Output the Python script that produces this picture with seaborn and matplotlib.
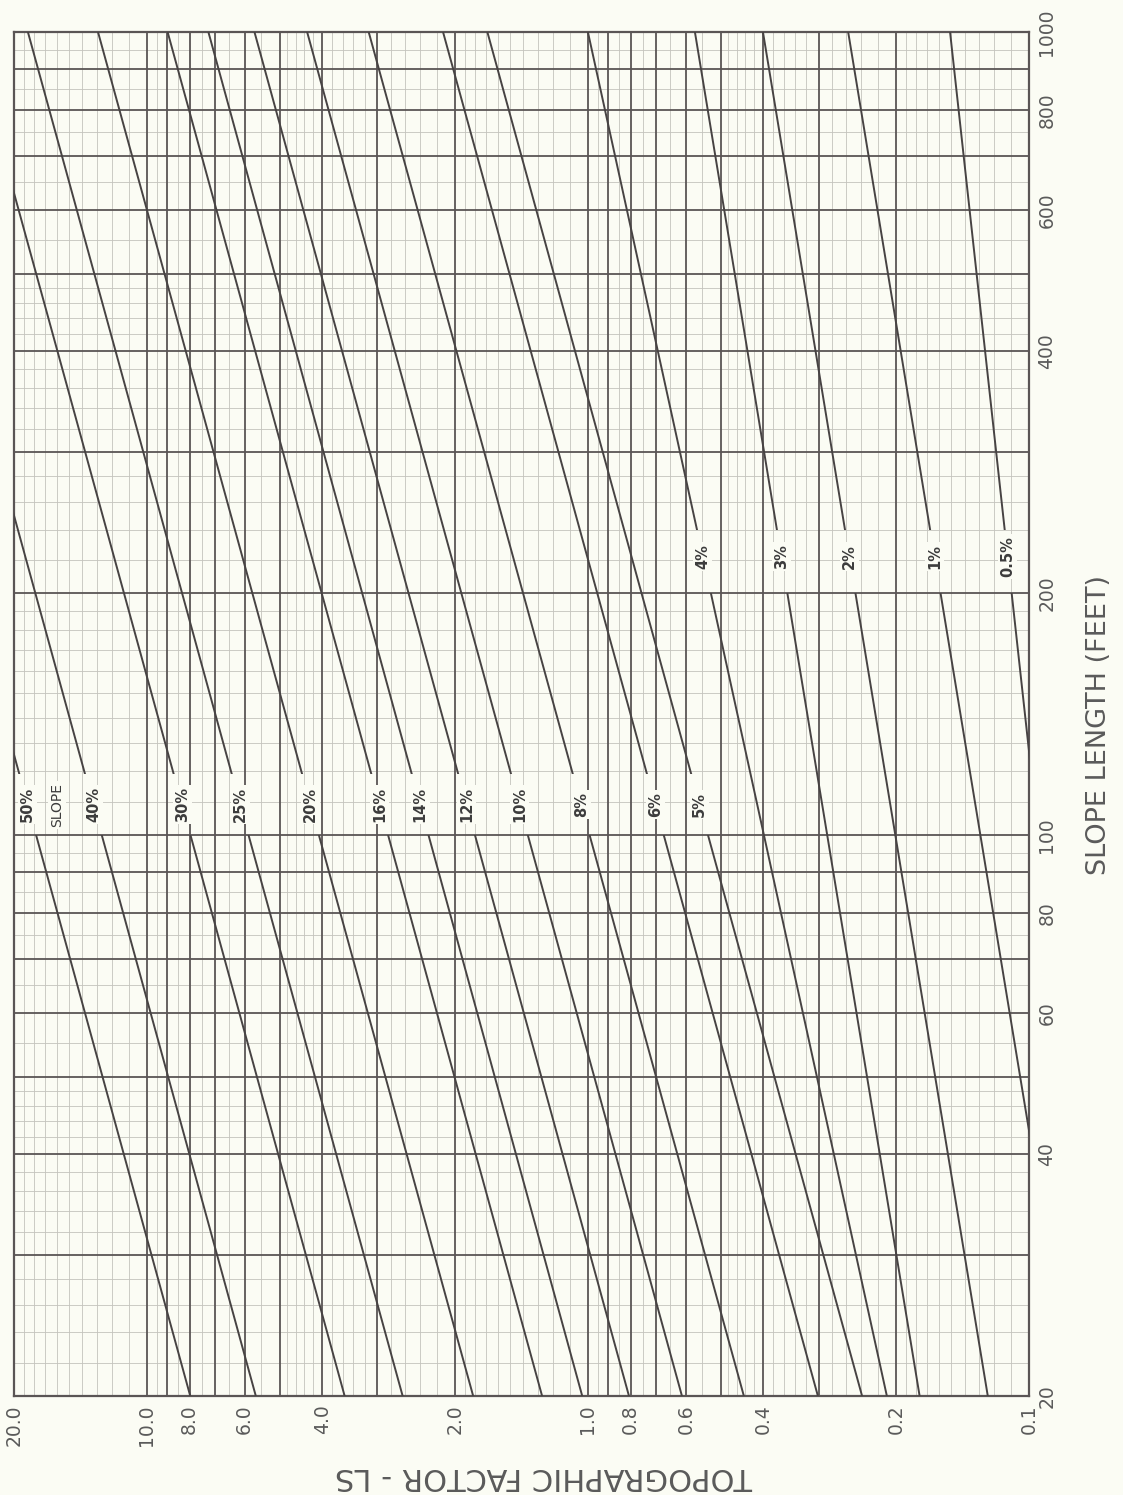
import numpy as np
import pandas as pd
import matplotlib
matplotlib.use("Agg")
import matplotlib.pyplot as plt
import seaborn as sns
from matplotlib.patches import Rectangle
from matplotlib.transforms import blended_transform_factory

# ---------------- data ----------------
slope_labels = ["50%", "40%", "30%", "25%", "20%", "16%", "14%", "12%", "10%",
                "8%", "6%", "5%", "4%", "3%", "2%", "1%", "0.5%"]
# LS value of each line at slope length 20 ft and 1000 ft
ls_at_20 = [7.97, 5.66, 3.56, 2.63, 1.82, 1.27, 1.03, 0.807, 0.612,
            0.443, 0.301, 0.239, 0.210, 0.177, 0.124, 0.0796, 0.0691]
ls_at_1000 = [56.4, 40.0, 25.2, 18.6, 12.9, 8.97, 7.25, 5.70, 4.33,
              3.14, 2.13, 1.69, 1.00, 0.572, 0.401, 0.257, 0.151]
length_ends = [20, 1000]

ls_ticks = [20, 10, 8, 6, 4, 2, 1, 0.8, 0.6, 0.4, 0.2, 0.1]
ls_tick_labels = ["20.0", "10.0", "8.0", "6.0", "4.0", "2.0", "1.0", "0.8", "0.6", "0.4", "0.2", "0.1"]
length_ticks = [20, 40, 60, 80, 100, 200, 400, 600, 800, 1000]
length_tick_labels = ["20", "40", "60", "80", "100", "200", "400", "600", "800", "1000"]

# ---------------- styling ----------------
BG = "#fbfcf4"
INK = "#474343"
GRID_HEAVY = "#5a5555"
GRID_LIGHT = "#c4c3bd"
TXT = "#5a5a5a"

sns.set_style("white")
plt.rcParams["font.family"] = ["DejaVu Sans"]

fig = plt.figure(figsize=(11.23, 14.95), dpi=100, facecolor=BG)
ax = fig.add_axes([14 / 1123, 1 - 1396 / 1495, (1029 - 14) / 1123, (1396 - 32) / 1495])
ax.set_facecolor(BG)
ax.set_xscale("log")
ax.set_yscale("log")
ax.set_xlim(20, 0.1)
ax.set_ylim(20, 1000)

# ---------------- log-paper grid ----------------
def frange(a, b, s):
    n = int(round((b - a) / s))
    return [round(a + i * s, 6) for i in range(n + 1)]

heavy_x = [k * 10.0 ** e for e in (-1, 0) for k in range(1, 10)] + [10, 20]
light_x = (frange(0.11, 0.19, 0.01) + [v for v in frange(0.22, 0.48, 0.02) if abs(v * 10 - round(v * 10)) > 1e-6]
           + [0.55, 0.65, 0.75, 0.85, 0.95]
           + frange(1.1, 1.9, 0.1) + [v for v in frange(2.2, 4.8, 0.2) if abs(v - round(v)) > 1e-6]
           + [5.5, 6.5, 7.5, 8.5, 9.5] + frange(11, 19, 1))
heavy_y = list(range(20, 100, 10)) + list(range(100, 1001, 100))
light_y = ([v for v in range(22, 50, 2) if v % 10] + [55, 65, 75, 85, 95]
           + [v for v in range(110, 200, 10)] + [v for v in range(220, 500, 20) if v % 100]
           + [550, 650, 750, 850, 950])

for v in light_x:
    ax.axvline(v, color=GRID_LIGHT, lw=0.6, zorder=1)
for v in light_y:
    ax.axhline(v, color=GRID_LIGHT, lw=0.6, zorder=1)
for v in heavy_x:
    ax.axvline(v, color=GRID_HEAVY, lw=1.3, zorder=1.5)
for v in heavy_y:
    ax.axhline(v, color=GRID_HEAVY, lw=1.3, zorder=1.5)

# ---------------- slope lines ----------------
rows = []
for lab, a, b in zip(slope_labels, ls_at_20, ls_at_1000):
    rows.append({"slope": lab, "length": length_ends[0], "ls": a})
    rows.append({"slope": lab, "length": length_ends[1], "ls": b})
df = pd.DataFrame(rows)
small = ["4%", "3%", "2%", "1%", "0.5%"]
df_big = df[~df["slope"].isin(small)]
df_small = df[df["slope"].isin(small)]

blend = blended_transform_factory(ax.transAxes, ax.transData)

def draw(data, y0, y1):
    n0 = len(ax.lines)
    sns.lineplot(data=data, x="ls", y="length", units="slope", estimator=None,
                 sort=False, color=INK, lw=1.4, legend=False, ax=ax, zorder=3)
    clip = Rectangle((0, y0), 1, y1 - y0, transform=blend)
    for ln in ax.lines[n0:]:
        ln.set_clip_path(clip)

draw(df_big, 20, 100)
draw(df_big, 119, 1000)
draw(df_small, 20, 200)
draw(df_small, 240, 1000)

# ---------------- line labels ----------------
def ls_at(lab, lam):
    i = slope_labels.index(lab)
    a, b = np.log(ls_at_20[i]), np.log(ls_at_1000[i])
    t = (np.log(lam) - np.log(20)) / (np.log(1000) - np.log(20))
    return float(np.exp(a + t * (b - a)))

box = dict(facecolor=BG, edgecolor="none", pad=1.5)
for lab in slope_labels:
    lam = 222 if lab in small else 109
    ax.text(ls_at(lab, lam), lam, lab, rotation=90, ha="center", va="center",
            fontsize=10.5, fontweight="bold", color="#3c3c3c", bbox=box, zorder=4)
ax.text(16.0, 109, "SLOPE", rotation=90, ha="center", va="center",
        fontsize=10, color="#3c3c3c", bbox=box, zorder=4)

# ---------------- axes, ticks, labels ----------------
ax.set_xticks(ls_ticks)
ax.set_xticklabels(ls_tick_labels)
ax.xaxis.set_minor_locator(matplotlib.ticker.NullLocator())
ax.yaxis.set_minor_locator(matplotlib.ticker.NullLocator())
ax.yaxis.tick_right()
ax.set_yticks(length_ticks)
ax.set_yticklabels(length_tick_labels)
ax.tick_params(axis="x", length=0, pad=6, labelrotation=90, labelsize=13.5, labelcolor=TXT)
ax.tick_params(axis="y", length=0, pad=6, labelrotation=90, labelsize=13.5, labelcolor=TXT)
for t in ax.get_yticklabels():
    t.set_va("center")
ax.set_xlabel("")
ax.set_ylabel("")

for s in ax.spines.values():
    s.set_visible(True)
    s.set_color(GRID_HEAVY)
    s.set_linewidth(1.6)

fig.text(1099 / 1123, 1 - 725 / 1495, "SLOPE LENGTH (FEET)", rotation=90,
         ha="center", va="center", fontsize=19.5, color=TXT)
fig.text(544 / 1123, 1 - 1477 / 1495, "TOPOGRAPHIC FACTOR - LS", rotation=180,
         ha="center", va="center", fontsize=22, color=TXT)

fig.savefig("out.png", dpi=100, facecolor=BG)
